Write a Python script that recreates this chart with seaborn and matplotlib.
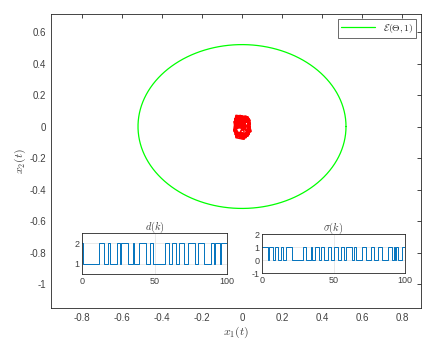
import numpy as np
import matplotlib
matplotlib.use("Agg")
import matplotlib.pyplot as plt
import matplotlib.ticker as mticker
import seaborn as sns

# -----------------------------
# Data
# -----------------------------
# invariant ellipse E(Theta, 1): centre and half-axes
ell_center = (0.0, 0.0)
ell_radii = (0.52, 0.52)

# state trajectory (x1, x2) - dense scribble around the origin
traj_x1 = [0.0, 0.03, -0.03, -0.04, 0.02, 0.04, -0.02, -0.035, 0.03, 0.035,
           -0.025, -0.03, 0.01, 0.04, 0.025, -0.04, -0.02, 0.03, 0.04, -0.01,
           -0.04, 0.0, 0.045, 0.02, -0.035, -0.03, 0.035, 0.03, -0.02, 0.01,
           -0.015, 0.02, -0.03, 0.005, 0.025, -0.01, 0.015, -0.025, 0.03,
           -0.005, 0.02, 0.0]
traj_x2 = [0.0, 0.06, 0.07, -0.02, -0.07, 0.02, 0.05, -0.05, -0.04, 0.05,
           0.065, -0.07, -0.08, -0.01, 0.06, 0.03, -0.06, -0.06, 0.04, 0.07,
           -0.03, -0.075, -0.03, 0.065, 0.05, -0.06, -0.05, 0.03, 0.02, -0.03,
           0.04, -0.02, 0.01, 0.05, -0.05, -0.04, 0.02, -0.01, 0.0, 0.03,
           0.05, 0.0]

# switching signals, one digit per step k = 0..100
d_seq = ("2" "11111111111" "222" "111" "2" "11111" "22" "1" "22222" "111"
         "2" "111" "22222" "111" "22" "11111111" "222" "11" "222" "11"
         "222" "111" "22222" "11" "2222" "11111" "22" "1" "222" "1" "22222")
sigma_seq = ("1111" "0" "111" "0" "11" "00" "11" "00" "1111" "00000000"
             "11" "000" "1" "00" "111" "0" "11" "000" "11" "00" "111" "00"
             "11" "00" "1111" "0" "11" "0000" "111" "000" "11" "000" "111"
             "0000" "111" "0" "1" "0" "1" "000" "111")
d_vals = [int(c) for c in d_seq]
sigma_vals = [int(c) for c in sigma_seq]

# -----------------------------
# Style
# -----------------------------
sns.set_style("white")
plt.rcParams['font.family'] = ['Liberation Sans', 'DejaVu Sans']
plt.rcParams['mathtext.fontset'] = 'cm'
plt.rcParams['axes.unicode_minus'] = False
axcol = '#262626'
txtcol = '#404040'
blue = '#0072BD'

fig = plt.figure(figsize=(4.33, 3.51), dpi=100)
ax = fig.add_axes([0.1178, 0.1225, 0.8545, 0.8375])

theta = np.linspace(0, 2 * np.pi, 400)
ell_x = ell_center[0] + ell_radii[0] * np.cos(theta)
ell_y = ell_center[1] + ell_radii[1] * np.sin(theta)
sns.lineplot(x=ell_x, y=ell_y, sort=False, estimator=None, color='#00ff00',
             lw=0.9, label=r'$\mathcal{E}(\Theta,1)$', ax=ax)
sns.lineplot(x=traj_x1, y=traj_x2, sort=False, estimator=None, color='red',
             lw=1.3, ax=ax)

ax.set_xlim(-0.955, 0.895)
ax.set_ylim(-1.152, 0.714)
ax.set_xticks(np.arange(-0.8, 0.81, 0.2))
ax.set_yticks(np.arange(-1.0, 0.61, 0.2))
fmt = mticker.FuncFormatter(lambda v, p: '%g' % (round(v, 2) + 0.0))
ax.xaxis.set_major_formatter(fmt)
ax.yaxis.set_major_formatter(fmt)
ax.tick_params(direction='in', length=3, width=0.6, labelsize=7,
               colors=axcol, labelcolor=txtcol, top=True, right=True)
for s in ax.spines.values():
    s.set_color(axcol)
    s.set_linewidth(0.6)
ax.set_xlabel(r'$x_1(t)$', fontsize=8.5, color=txtcol, labelpad=1)
ax.set_ylabel(r'$x_2(t)$', fontsize=8.5, color=txtcol, labelpad=1)
leg = ax.legend(loc='upper right', fontsize=7, frameon=True, fancybox=False,
                handlelength=3.5, borderpad=0.3, borderaxespad=0.5)
leg.get_frame().set_edgecolor(axcol)
leg.get_frame().set_linewidth(0.6)


def inset(rect, vals, ylim, yticks, title):
    a = fig.add_axes(rect)
    k = np.arange(len(vals))
    sns.lineplot(x=k, y=vals, drawstyle='steps-post', estimator=None,
                 color=blue, lw=0.7, ax=a)
    a.set_xlim(0, 100)
    a.set_ylim(*ylim)
    a.set_xticks([0, 50, 100])
    a.set_yticks(yticks)
    a.grid(True, color='#e0e0e0', lw=0.5)
    a.set_axisbelow(True)
    a.tick_params(direction='in', length=2, width=0.5, labelsize=6.5,
                  colors=axcol, labelcolor=txtcol, pad=2)
    for s in a.spines.values():
        s.set_color(axcol)
        s.set_linewidth(0.6)
    a.set_title(title, fontsize=7.5, pad=2, color=txtcol)
    return a


inset([0.1894, 0.2194, 0.3349, 0.1168], d_vals, (0.5, 2.5), [1, 2],
      r'$d(k)$')
inset([0.6051, 0.2222, 0.3303, 0.1111], sigma_vals, (-1, 2), [-1, 0, 1, 2],
      r'$\sigma(k)$')

plt.savefig("out.png", dpi=100)
